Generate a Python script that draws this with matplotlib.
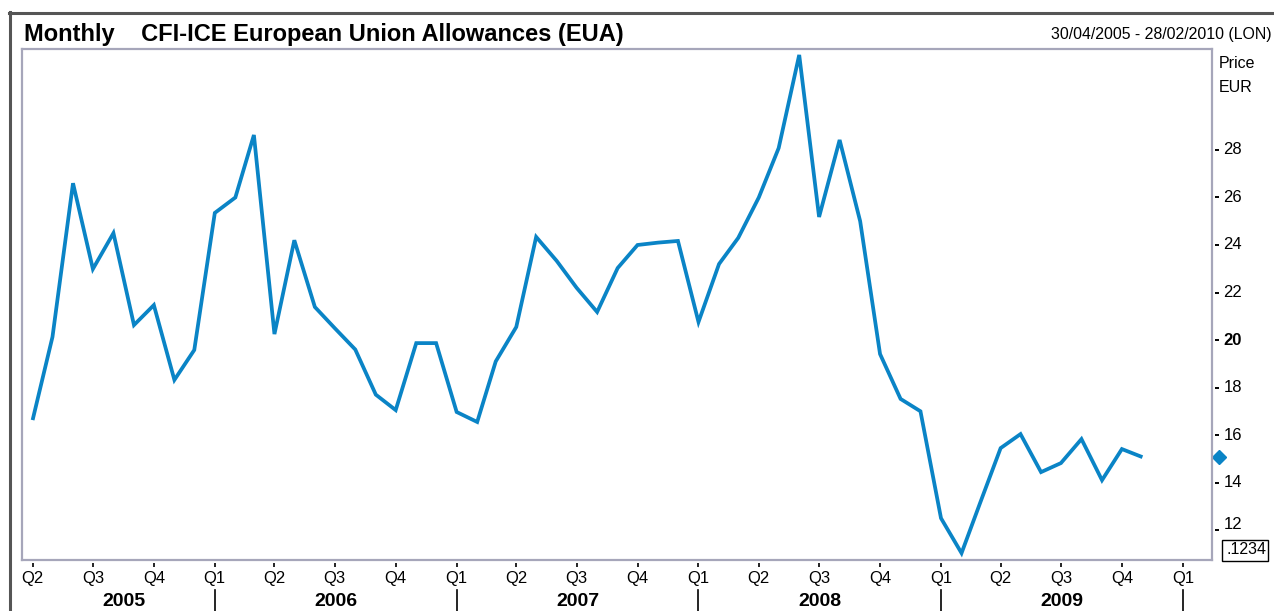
import matplotlib
matplotlib.use("Agg")
import matplotlib.pyplot as plt
import matplotlib.dates as mdates
from matplotlib.lines import Line2D
from matplotlib.patches import Rectangle
import datetime as dt

plt.rcParams['font.family'] = ['Liberation Sans', 'DejaVu Sans']

# ---- data ----
start_year, start_month = 2005, 4
prices = [16.63, 20.13, 26.6, 22.99, 24.5, 20.63, 21.47, 18.32, 19.58, 25.35,
          26.0, 28.63, 20.25, 24.2, 21.39, 20.5, 19.6, 17.7, 17.05, 19.87,
          19.87, 16.97, 16.55, 19.1, 20.55, 24.34, 23.33, 22.2, 21.18, 23.03,
          24.0, 24.1, 24.17, 20.76, 23.2, 24.3, 26.0, 28.08, 32.0, 25.18,
          28.42, 25.0, 19.41, 17.52, 17.0, 12.5, 11.03, 13.14, 15.45, 16.04,
          14.44, 14.82, 15.83, 14.1, 15.41, 15.07]
last_price = 15.07
y_ticks = [12, 14, 16, 18, 20, 22, 24, 26, 28]
quarter_labels = ["Q2", "Q3", "Q4", "Q1", "Q2", "Q3", "Q4", "Q1", "Q2", "Q3", "Q4",
                  "Q1", "Q2", "Q3", "Q4", "Q1", "Q2", "Q3", "Q4", "Q1"]
years = ["2005", "2006", "2007", "2008", "2009"]
title = "Monthly    CFI-ICE European Union Allowances (EUA)"
date_range = "30/04/2005 - 28/02/2010 (LON)"

def month_date(i):
    m = start_month - 1 + i
    return dt.date(start_year + m // 12, m % 12 + 1, 1)

dates = [month_date(i) for i in range(len(prices))]
q_dates = [month_date(3 * i) for i in range(len(quarter_labels))]

W, H = 1274, 611
fig = plt.figure(figsize=(W / 100, H / 100), dpi=100)
fig.patch.set_facecolor("white")

def fx(px):
    return px / W

def fy(py):
    return 1 - py / H

L, R, T, B = 22, 1212, 49, 560
ax = fig.add_axes([fx(L), fy(B), fx(R) - fx(L), fy(T) - fy(B)])
line_color = "#0a84c6"
ax.plot(mdates.date2num(dates), prices, color=line_color, lw=2.7,
        solid_joinstyle="miter", solid_capstyle="butt")

x0 = mdates.date2num(dt.date(2005, 3, 16))
x1 = mdates.date2num(dt.date(2010, 2, 14))
ax.set_xlim(x0, x1)
ax.set_ylim(10.74, 32.25)
frame_color = "#a6a6ba"
for s in ax.spines.values():
    s.set_color(frame_color)
    s.set_linewidth(1.6)
ax.set_xticks([])
ax.set_yticks([])

# right axis ticks
trans_r = ax.get_yaxis_transform()
for v in y_ticks:
    ax.plot([1.0025, 1.0055], [v, v], transform=trans_r, color="black", lw=1.4,
            clip_on=False, solid_capstyle="butt")
    ax.text(1.0095, v + (0.25 if v == 12 else 0), str(v), transform=trans_r,
            ha="left", va="center", fontsize=12,
            fontweight="bold" if v == 20 else "normal")

ax.plot([1.006], [last_price], transform=trans_r, marker="D", ms=7.5,
        color=line_color, clip_on=False, mec=line_color)

# bottom quarter ticks and labels
trans_b = ax.get_xaxis_transform()
for d, lab in zip(q_dates, quarter_labels):
    xv = mdates.date2num(d)
    ax.plot([xv, xv], [-0.006, -0.013], transform=trans_b, color="black", lw=1.2,
            clip_on=False, solid_capstyle="butt")
    ax.text(xv, -0.037, lab, transform=trans_b, ha="center", va="center", fontsize=12)

# year separators and labels
year_bounds = [mdates.date2num(dt.date(int(y), 1, 1)) for y in years] + \
              [mdates.date2num(dt.date(int(years[-1]) + 1, 1, 1))]
for xb in year_bounds[1:]:
    ax.plot([xb, xb], [-0.058, -0.11], transform=trans_b, color="black", lw=1.2,
            clip_on=False)
for i, y in enumerate(years):
    lo = max(year_bounds[i], mdates.date2num(q_dates[0]))
    hi = year_bounds[i + 1]
    ax.text((lo + hi) / 2, -0.081, y, transform=trans_b, ha="center", va="center",
            fontsize=14, fontweight="bold")

# outer frame lines
fig.add_artist(Line2D([fx(10), fx(10)], [fy(12), 0], transform=fig.transFigure,
                      color="#555555", lw=2.2))
fig.add_artist(Line2D([fx(9), 1], [fy(13), fy(13)], transform=fig.transFigure,
                      color="#555555", lw=2.2))

fig.text(fx(24), fy(34), title, ha="left", va="center", fontsize=17,
         fontweight="bold")
fig.text(fx(1272), fy(35), date_range, ha="right", va="center", fontsize=11.4)
fig.text(fx(1219), fy(64), "Price", ha="left", va="center", fontsize=11.5)
fig.text(fx(1219), fy(88), "EUR", ha="left", va="center", fontsize=11.5)

# value box
fig.add_artist(Rectangle((fx(1222), fy(561)), fx(1268) - fx(1222), fy(540) - fy(561),
                         transform=fig.transFigure, fill=False, ec="black", lw=1.0))
fig.text(fx(1266), fy(550), ".1234", ha="right", va="center", fontsize=11.5)

fig.savefig("out.png", dpi=100)
